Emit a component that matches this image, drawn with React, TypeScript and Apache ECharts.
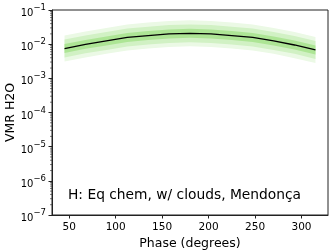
import React, { useEffect, useRef } from "react";
import * as echarts from "echarts";

const phases = [45, 67.5, 90, 112.5, 135, 157.5, 180, 202.5, 225, 247.5, 270, 292.5, 315];
const median = [0.00746, 0.0098, 0.0124, 0.0157, 0.0179, 0.0199, 0.0208, 0.0199, 0.0179, 0.0157, 0.0124, 0.00946, 0.00676];
const innerUpper = [0.0101, 0.0132, 0.0167, 0.0212, 0.0242, 0.0269, 0.0281, 0.0269, 0.0242, 0.0212, 0.0167, 0.0128, 0.0091];
const innerLower = [0.0055, 0.0073, 0.0092, 0.0116, 0.0133, 0.0147, 0.0154, 0.0147, 0.0133, 0.0116, 0.0092, 0.0070, 0.0050];
const midUpper = [0.0136, 0.0178, 0.0226, 0.0286, 0.0326, 0.0362, 0.0379, 0.0362, 0.0326, 0.0286, 0.0226, 0.0172, 0.0123];
const midLower = [0.0041, 0.0054, 0.0068, 0.0086, 0.0098, 0.0109, 0.0114, 0.0109, 0.0098, 0.0086, 0.0068, 0.0052, 0.0037];
const outerUpper = [0.0179, 0.0235, 0.0298, 0.0377, 0.043, 0.0478, 0.0499, 0.0478, 0.043, 0.0377, 0.0298, 0.0227, 0.0162];
const outerLower = [0.0031, 0.0041, 0.0052, 0.0065, 0.0075, 0.0083, 0.0087, 0.0083, 0.0075, 0.0065, 0.0052, 0.0039, 0.0028];

const xTicks = [50, 100, 150, 200, 250, 300];
const yTicks = [1e-7, 1e-6, 1e-5, 1e-4, 1e-3, 1e-2, 1e-1];
const yMinor: number[] = [];
for (let e = -7; e < -1; e++) {
  for (let k = 2; k <= 9; k++) yMinor.push(k * Math.pow(10, e));
}

const annotation = "H: Eq chem, w/ clouds, Mendonça";
const FONT = "DejaVu Sans";

function bandSeries(lower: number[], upper: number[], color: string) {
  return {
    type: "custom",
    silent: true,
    data: phases.map((p, i) => [p, lower[i], upper[i]]),
    encode: { x: 0, y: [1, 2] },
    renderItem: (params: any, api: any) => {
      if (params.dataIndex !== 0) return null;
      const top = phases.map((p, i) => api.coord([p, upper[i]]));
      const bot = phases.map((p, i) => api.coord([p, lower[i]])).reverse();
      return {
        type: "polygon",
        shape: { points: top.concat(bot) },
        style: { fill: color, stroke: "none" },
      };
    },
    z: 1,
  };
}

export default function App() {
  const ref = useRef<HTMLDivElement>(null);
  useEffect(() => {
    const chart = echarts.init(ref.current!, null, { renderer: "svg" });
    chart.setOption({
      animation: false,
      textStyle: { fontFamily: FONT },
      grid: {
        left: 52, right: 4, top: 10, bottom: 37,
        outerBoundsMode: "none",
        show: true, borderColor: "#222", borderWidth: 1, backgroundColor: "#fff",
      },
      xAxis: {
        type: "value",
        min: 31.5,
        max: 328.5,
        name: "Phase (degrees)",
        nameLocation: "middle",
        nameGap: 21,
        nameMoveOverlap: false,
        nameTextStyle: { fontFamily: FONT, fontSize: 12.5, color: "#000" },
        axisLine: { show: true, lineStyle: { color: "#222", width: 1 } },
        axisTick: { show: true, length: 3.5, lineStyle: { color: "#222" }, customValues: xTicks },
        axisLabel: { fontFamily: FONT, fontSize: 10.5, color: "#000", margin: 5, customValues: xTicks },
        splitLine: { show: false },
      },
      yAxis: {
        type: "log",
        logBase: 10,
        min: 1e-7,
        max: 1e-1,
        name: "VMR H2O",
        nameLocation: "middle",
        nameGap: 36,
        nameMoveOverlap: false,
        nameTextStyle: { fontFamily: FONT, fontSize: 12.5, color: "#000" },
        axisLine: { show: true, lineStyle: { color: "#222", width: 1 } },
        axisTick: { show: true, length: 3.5, lineStyle: { color: "#222" }, customValues: yTicks },
        axisLabel: {
          fontFamily: FONT,
          color: "#000",
          margin: 6,
          customValues: yTicks,
          formatter: (v: number) => {
            const e = Math.round(Math.log10(v));
            return "{b|10}{s|\u2212" + Math.abs(e) + "}";
          },
          rich: {
            b: { fontFamily: FONT, fontSize: 10, color: "#000", lineHeight: 15, verticalAlign: "bottom" },
            s: { fontFamily: FONT, fontSize: 8.5, color: "#000", lineHeight: 10, verticalAlign: "top" },
          },
        },
        splitLine: { show: false },
      },
      graphic: [
        {
          type: "text",
          left: 68,
          top: 187,
          style: { text: annotation, fontFamily: FONT, fontSize: 13.8, fill: "#000" },
          z: 10,
        },
      ],
      series: [
        bandSeries(outerLower, outerUpper, "#ebf9e5"),
        bandSeries(midLower, midUpper, "#d1f1c4"),
        bandSeries(innerLower, innerUpper, "#ade595"),
        {
          type: "line",
          data: phases.map((p, i) => [p, median[i]]),
          showSymbol: false,
          lineStyle: { color: "#000", width: 1.3 },
          z: 5,
        },
        {
          type: "custom",
          silent: true,
          data: yMinor.map((v) => [31.5, v]),
          renderItem: (params: any, api: any) => {
            const pt = api.coord([31.5, api.value(1)]);
            return {
              type: "line",
              shape: { x1: pt[0], y1: pt[1], x2: pt[0] - 2, y2: pt[1] },
              style: { stroke: "#222", lineWidth: 0.6 },
            };
          },
          clip: false,
          z: 6,
        },
      ],
    });
    return () => chart.dispose();
  }, []);
  return <div ref={ref} style={{ position: "fixed", left: 0, top: 0, width: 332, height: 252 }} />;
}
